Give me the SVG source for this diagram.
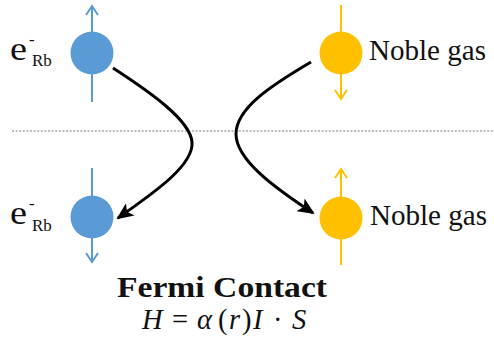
<svg xmlns="http://www.w3.org/2000/svg" width="494" height="348" viewBox="0 0 494 348">
<style>
.serif{font-family:"Liberation Serif","DejaVu Serif",serif;fill:#111}
.eq{font-family:"Liberation Serif","DejaVu Serif",serif;fill:#111;font-size:28.5px}
.it{font-style:italic}
.blue{stroke:#5B9BD5;stroke-width:2;fill:none}
.yel{stroke:#FFC000;stroke-width:2;fill:none}
.curve{stroke:#000;stroke-width:3;fill:none;marker-end:url(#ah)}
</style>
<defs>
<marker id="ah" markerUnits="userSpaceOnUse" markerWidth="17" markerHeight="15" viewBox="0 0 17 15" refX="15" refY="7.5" orient="auto">
<path d="M0,0 L17,7.5 L0,15 L4,7.5 Z" fill="#000"/>
</marker>
</defs>
<rect width="494" height="348" fill="#fff"/>
<line x1="12" y1="131" x2="494" y2="131" stroke="#a6a6a6" stroke-width="1.5" stroke-dasharray="2 1.6"/>
<g id="connectors">
<path class="curve" d="M113,68 C150,92 190,120 192,142 C194,165 155,192 118,218"/>
<path class="curve" d="M311,62 C272,85 236,108 236,134 C236,160 275,188 313,213"/>
</g>
<g id="rb-top">
<line class="blue" x1="92" y1="102" x2="92" y2="6"/>
<polyline class="blue" points="86,15 92,6 98,15"/>
<circle cx="92" cy="53" r="21.5" fill="#5B9BD5"/>
<text class="serif" x="10" y="60" font-size="34" textLength="17" lengthAdjust="spacingAndGlyphs">e</text>
<text class="serif" x="29" y="45" font-size="17">-</text>
<text class="serif" x="32" y="66" font-size="17">Rb</text>
</g>
<g id="rb-bottom">
<line class="blue" x1="92" y1="168" x2="92" y2="262"/>
<polyline class="blue" points="86,253 92,262 98,253"/>
<circle cx="92" cy="217" r="21.5" fill="#5B9BD5"/>
<text class="serif" x="10" y="224" font-size="34" textLength="17" lengthAdjust="spacingAndGlyphs">e</text>
<text class="serif" x="29" y="209" font-size="17">-</text>
<text class="serif" x="32" y="231" font-size="17">Rb</text>
</g>
<g id="noble-top">
<line class="yel" x1="341" y1="5" x2="341" y2="99"/>
<polyline class="yel" points="335,90 341,99 347,90"/>
<circle cx="341" cy="53" r="21.5" fill="#FFC000"/>
<text class="serif" x="369" y="60" font-size="30" textLength="117" lengthAdjust="spacingAndGlyphs">Noble gas</text>
</g>
<g id="noble-bottom">
<line class="yel" x1="341" y1="265" x2="341" y2="169"/>
<polyline class="yel" points="335,178 341,169 347,178"/>
<circle cx="341" cy="218" r="21.5" fill="#FFC000"/>
<text class="serif" x="370" y="225" font-size="30" textLength="117" lengthAdjust="spacingAndGlyphs">Noble gas</text>
</g>
<g id="title">
<text class="serif" x="117" y="297" font-size="30" font-weight="bold" textLength="210" lengthAdjust="spacingAndGlyphs">Fermi Contact</text>
<text class="eq it" x="142" y="329">H</text>
<text class="eq" x="172" y="329">=</text>
<text class="eq it" x="197" y="329">α</text>
<text class="eq" x="218" y="329">(</text>
<text class="eq it" x="229" y="329">r</text>
<text class="eq" x="242" y="329">)</text>
<text class="eq it" x="253" y="329">I</text>
<text class="eq" x="273" y="329">·</text>
<text class="eq it" x="292" y="329">S</text>
</g>
</svg>
